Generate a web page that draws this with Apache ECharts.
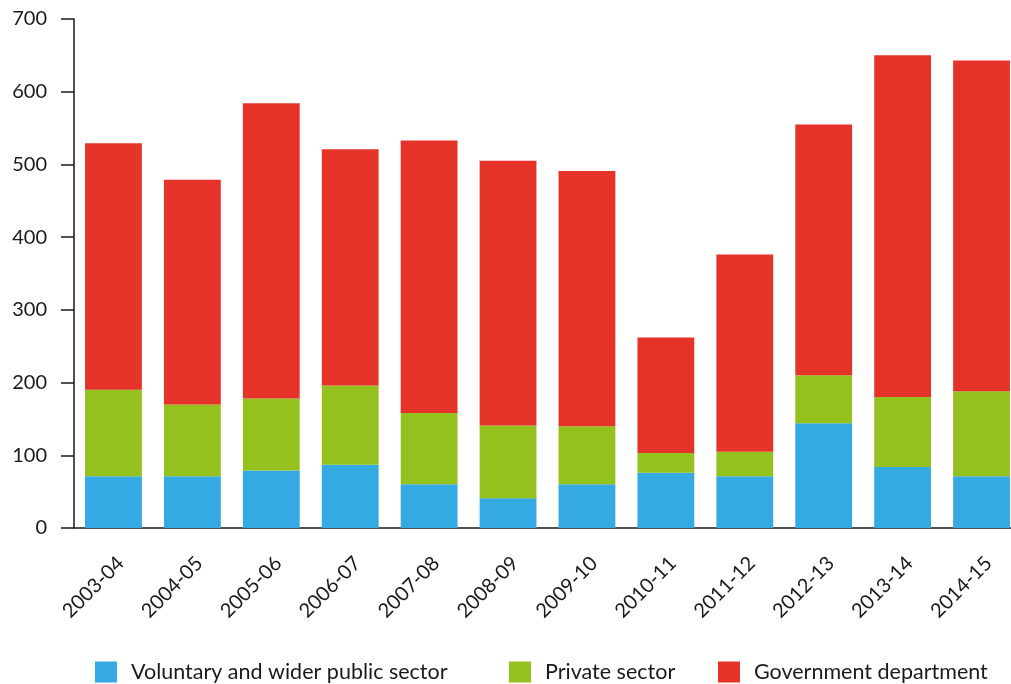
<!DOCTYPE html>
<html>
<head>
<meta charset="utf-8">
<script src="https://cdn.jsdelivr.net/npm/echarts@6/dist/echarts.min.js"></script>
<style>html,body{margin:0;padding:0;background:#fff;overflow:hidden}#c{width:1030px;height:684px}</style>
</head>
<body>
<div id="c"></div>
<script>
var categories = ['2003-04','2004-05','2005-06','2006-07','2007-08','2008-09','2009-10','2010-11','2011-12','2012-13','2013-14','2014-15'];
var voluntary = [71, 71, 79, 87, 60, 41, 60, 76, 71, 144, 84, 71];
var privateSector = [119, 99, 99, 109, 98, 100, 80, 27, 34, 66, 96, 117];
var government = [339, 309, 406, 325, 375, 364, 351, 159, 271, 345, 470, 455];
var seriesNames = ['Voluntary and wider public sector', 'Private sector', 'Government department'];
var yTicks = [0, 100, 200, 300, 400, 500, 600, 700];

var colors = ['#35a9e1', '#95c11f', '#e6332a'];
var font = 'Lato';
var ink = '#1a1a1a';
var chart = echarts.init(document.getElementById('c'));
function legend(i, left) {
  return {
    data: [seriesNames[i]], left: left, top: 660, padding: 0, itemWidth: 22, itemHeight: 21,
    icon: 'rect', itemGap: 0,
    textStyle: { fontFamily: font, fontSize: 21.5, lineHeight: 21, color: ink, padding: [0, 0, 3, 9] }
  };
}
chart.setOption({
  animation: false,
  color: colors,
  grid: { left: 74, top: 19, height: 509, width: 947, containLabel: false },
  legend: [legend(0, 95), legend(1, 509), legend(2, 718)],
  xAxis: {
    type: 'category', data: categories,
    axisLine: { lineStyle: { color: ink, width: 1.5 } },
    axisTick: { length: 12, lineStyle: { color: ink, width: 1.5 } },
    axisLabel: { rotate: 45, margin: 25, verticalAlign: 'top', fontFamily: font, fontSize: 20, color: ink, interval: 0 }
  },
  yAxis: {
    type: 'value', min: yTicks[0], max: yTicks[yTicks.length - 1], interval: 100,
    axisLine: { show: true, lineStyle: { color: ink, width: 1.5 } },
    axisTick: { show: true, length: 13, lineStyle: { color: ink, width: 1.5 } },
    splitLine: { show: false },
    axisLabel: { margin: 27, fontFamily: font, fontSize: 20, color: ink }
  },
  series: [
    { name: seriesNames[0], type: 'bar', stack: 's', data: voluntary, barCategoryGap: '28%' },
    { name: seriesNames[1], type: 'bar', stack: 's', data: privateSector, barCategoryGap: '28%' },
    { name: seriesNames[2], type: 'bar', stack: 's', data: government, barCategoryGap: '28%' }
  ]
});
</script>
</body>
</html>
